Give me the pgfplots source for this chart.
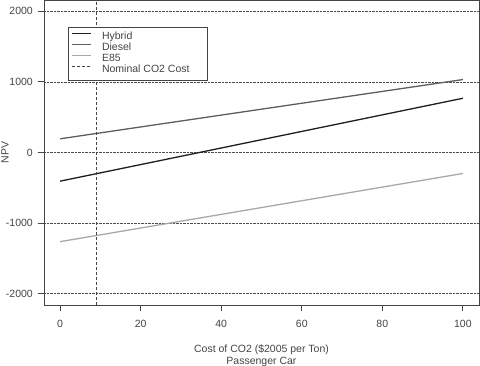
\documentclass[border=0pt]{standalone}
\usepackage{pgfplots}
\pgfplotsset{compat=1.18}
\usepackage{fontspec}
\setmainfont{Liberation Sans}
\definecolor{hyb}{HTML}{1E1E1E}
\definecolor{dsl}{HTML}{5E5E5E}
\definecolor{eef}{HTML}{A8A8A8}
\definecolor{axc}{HTML}{444444}
\newcommand{\lt}[1]{\makebox[102pt][l]{#1}}
\begin{document}
\begin{tikzpicture}[x=1pt,y=1pt,font=\fontsize{10.5}{12}\selectfont]
\useasboundingbox (0,0) rectangle (480,366);
\begin{axis}[
 at={(44pt,61pt)}, anchor=south west,
 scale only axis, width=435pt, height=305pt,
 xmin=-4, xmax=104, ymin=-2160, ymax=2160,
 xtick={0,20,...,100}, ytick={-2000,-1000,...,2000},
 tick pos=left, tick align=outside, major tick length=6pt,
 axis line style={draw=axc, line width=0.8pt},
 every tick/.style={draw=axc, line width=0.8pt},
 ymajorgrids, grid style={densely dotted, black!70, line width=0.7pt},
 /pgf/number format/assume math mode=true,
 /pgf/number format/1000 sep={},
 ticklabel style={text=axc},
 yticklabel style={anchor=east, inner sep=0pt, xshift=-5pt},
 xticklabel style={anchor=north, inner sep=0pt, yshift=-9pt},
 xlabel={Cost of CO2 (\$2005 per Ton)\\Passenger Car},
 xlabel style={at={(rel axis cs:0.5,0)}, anchor=north, align=center, inner sep=0pt, yshift=-40pt, text=axc},
 ylabel={NPV},
 ylabel style={at={(rel axis cs:0,0.5)}, anchor=center, yshift=39pt, text=axc},
 legend style={at={(rel axis cs:0.0552,0.9115)}, anchor=north west, draw=axc, line width=0.6pt, fill=white,
   inner xsep=3pt, inner ysep=5pt, row sep=1pt, column sep=11pt,
   nodes={inner sep=0pt, text height=7.5pt, text depth=2.5pt, anchor=west, text=axc}},
 legend cell align=left,
 legend image code/.code={\draw[#1, line width=0.7pt] (0pt,3.5pt) -- (19pt,3.5pt);},
]
\addplot[hyb, line width=1.3pt] coordinates {(0,-406) (100,768)};
\addlegendentry{\lt{Hybrid}}
\addplot[dsl, line width=1.3pt] coordinates {(0,194) (100,1033)};
\addlegendentry{\lt{Diesel}}
\addplot[eef, line width=1.3pt] coordinates {(0,-1263) (100,-297)};
\addlegendentry{\lt{E85}}
\addplot[axc, line width=0.8pt, dash pattern=on 3pt off 2pt] coordinates {(9,-2160) (9,2160)};
\addlegendentry{\lt{Nominal CO2 Cost}}
\end{axis}
\end{tikzpicture}
\end{document}
